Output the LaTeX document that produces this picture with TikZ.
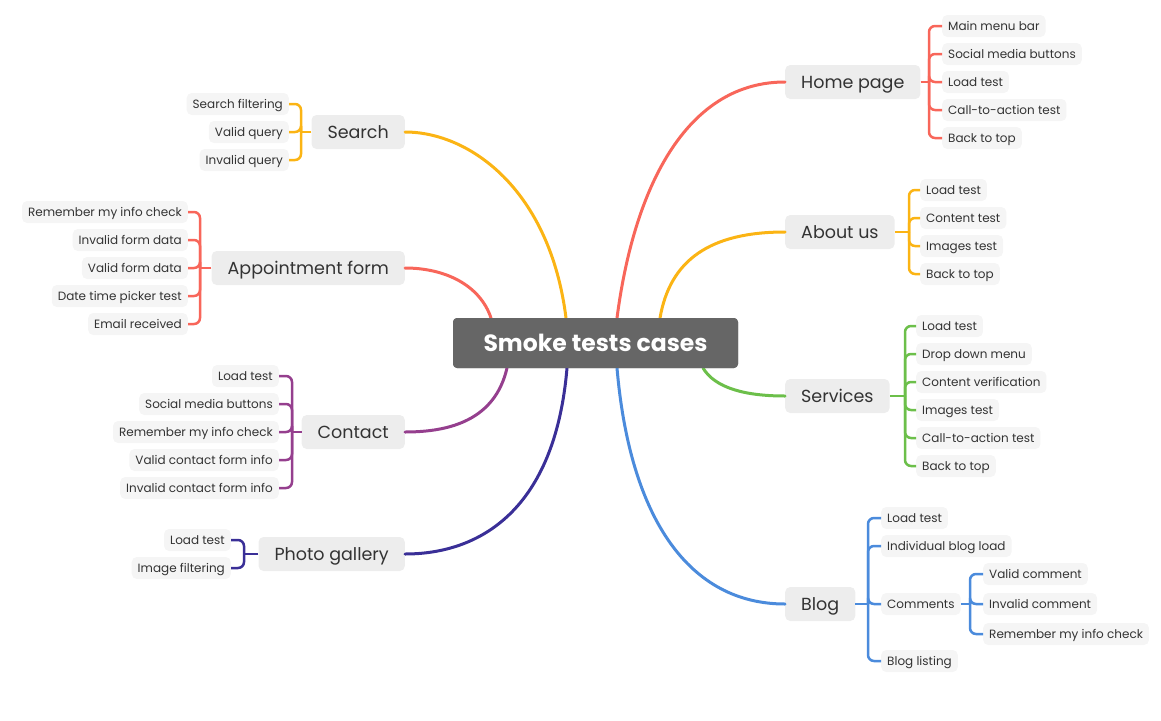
\documentclass[tikz,border=0pt]{standalone}
\usepackage{fontspec}
\setmainfont{Poppins}
\definecolor{cred}{HTML}{F8665A}
\definecolor{cyel}{HTML}{FBB414}
\definecolor{cgrn}{HTML}{6CBF4A}
\definecolor{cblu}{HTML}{4B8BDC}
\definecolor{cpur}{HTML}{953F8E}
\definecolor{cind}{HTML}{3A2F97}
\definecolor{ctxt}{HTML}{333333}
\begin{document}
\begin{tikzpicture}[x=1pt,y=-1pt,
  central/.style={fill=black!60, rounded corners=4pt, text=white, font=\fontsize{23.5}{26}\selectfont\bfseries, minimum width=285pt, minimum height=50pt, inner sep=0pt, text height=16.4pt, text depth=0pt},
  topic/.style={fill=black!7, rounded corners=5pt, text=ctxt, font=\fontsize{17.5}{20}\selectfont, minimum height=34pt, inner xsep=16pt, inner ysep=0pt, text height=12.2pt, text depth=0pt},
  leaf/.style={fill=black!4, rounded corners=5pt, text=ctxt, font=\fontsize{12}{14}\selectfont, minimum height=22pt, inner xsep=6pt, inner ysep=0pt, text height=8.4pt, text depth=0pt},
  trunk/.style={line width=3pt, line cap=round},
  br/.style={line width=2.5pt, rounded corners=6pt}
]
\useasboundingbox (0,0) rectangle (1161,720);

% central
\node[central] (c) at (595.5,343) {Smoke tests cases};

% topics right
\node[topic, anchor=west] (hp) at (785,82) {Home page};
\node[topic, anchor=west] (au) at (785,232) {About us};
\node[topic, anchor=west] (sv) at (785,396) {Services};
\node[topic, anchor=west] (bl) at (785,604) {Blog};
% topics left
\node[topic, anchor=east] (se) at (405,132) {Search};
\node[topic, anchor=east] (ap) at (405,268) {Appointment form};
\node[topic, anchor=east] (ct) at (405,432) {Contact};
\node[topic, anchor=east] (pg) at (405,554) {Photo gallery};

% trunks
\draw[trunk, cred] (617,318) .. controls (635,180) and (690,82) .. (hp.west);
\draw[trunk, cyel] (660,318) .. controls (670,260) and (710,232) .. (au.west);
\draw[trunk, cgrn] (703,368) .. controls (715,388) and (745,396) .. (sv.west);
\draw[trunk, cblu] (617,368) .. controls (630,520) and (690,604) .. (bl.west);
\draw[trunk, cyel] (566,318) .. controls (550,190) and (470,132) .. (se.east);
\draw[trunk, cred] (491,318) .. controls (480,285) and (445,268) .. (ap.east);
\draw[trunk, cpur] (507,368) .. controls (495,420) and (450,432) .. (ct.east);
\draw[trunk, cind] (567,368) .. controls (555,510) and (480,554) .. (pg.east);
\node[central] at (c) {Smoke tests cases};

% Home page leaves
\coordinate (hpb) at (929,82);
\foreach \n/\y/\t in {hp1/26/Main menu bar, hp2/54/Social media buttons, hp3/82/Load test, hp4/110/Call-to-action test, hp5/138/Back to top}{
  \node[leaf, anchor=west] (\n) at (942,\y) {\t};
  \draw[br, cred] (hpb) |- (\n.west);
}
\draw[br, cred] (hp.east) -- (hpb);

% About us leaves
\coordinate (aub) at (909,232);
\foreach \n/\y/\t in {au1/190/Load test, au2/218/Content test, au3/246/Images test, au4/274/Back to top}{
  \node[leaf, anchor=west] (\n) at (920,\y) {\t};
  \draw[br, cyel] (aub) |- (\n.west);
}
\draw[br, cyel] (au.east) -- (aub);

% Services leaves
\coordinate (svb) at (905,396);
\foreach \n/\y/\t in {sv1/326/Load test, sv2/354/Drop down menu, sv3/382/Content verification, sv4/410/Images test, sv5/438/Call-to-action test, sv6/466/Back to top}{
  \node[leaf, anchor=west] (\n) at (916,\y) {\t};
  \draw[br, cgrn] (svb) |- (\n.west);
}
\draw[br, cgrn] (sv.east) -- (svb);

% Blog leaves
\coordinate (blb) at (868,604);
\foreach \n/\y/\t in {bl1/518/Load test, bl2/546/Individual blog load, bl3/604/Comments, bl4/661/Blog listing}{
  \node[leaf, anchor=west] (\n) at (881,\y) {\t};
  \draw[br, cblu] (blb) |- (\n.west);
}
\draw[br, cblu] (bl.east) -- (blb);
\coordinate (cmb) at (970,604);
\foreach \n/\y/\t in {cm1/574/Valid comment, cm2/604/Invalid comment, cm3/634/Remember my info check}{
  \node[leaf, anchor=west] (\n) at (983,\y) {\t};
  \draw[br, cblu] (cmb) |- (\n.west);
}
\draw[br, cblu] (bl3.east) -- (cmb);

% Search leaves
\coordinate (seb) at (301,132);
\foreach \n/\y/\t in {se1/104/Search filtering, se2/132/Valid query, se3/160/Invalid query}{
  \node[leaf, anchor=east] (\n) at (289,\y) {\t};
  \draw[br, cyel] (seb) |- (\n.east);
}
\draw[br, cyel] (se.west) -- (seb);

% Appointment leaves
\coordinate (apb) at (200,268);
\foreach \n/\y/\t in {ap1/212/Remember my info check, ap2/240/Invalid form data, ap3/268/Valid form data, ap4/296/Date time picker test, ap5/324/Email received}{
  \node[leaf, anchor=east] (\n) at (188,\y) {\t};
  \draw[br, cred] (apb) |- (\n.east);
}
\draw[br, cred] (ap.west) -- (apb);

% Contact leaves
\coordinate (ctb) at (292,432);
\foreach \n/\y/\t in {ct1/376/Load test, ct2/404/Social media buttons, ct3/432/Remember my info check, ct4/460/Valid contact form info, ct5/488/Invalid contact form info}{
  \node[leaf, anchor=east] (\n) at (279,\y) {\t};
  \draw[br, cpur] (ctb) |- (\n.east);
}
\draw[br, cpur] (ct.west) -- (ctb);

% Photo gallery leaves
\coordinate (pgb) at (244,554);
\foreach \n/\y/\t in {pg1/540/Load test, pg2/568/Image filtering}{
  \node[leaf, anchor=east] (\n) at (231,\y) {\t};
  \draw[br, cind] (pgb) |- (\n.east);
}
\draw[br, cind] (pg.west) -- (pgb);
\end{tikzpicture}
\end{document}
